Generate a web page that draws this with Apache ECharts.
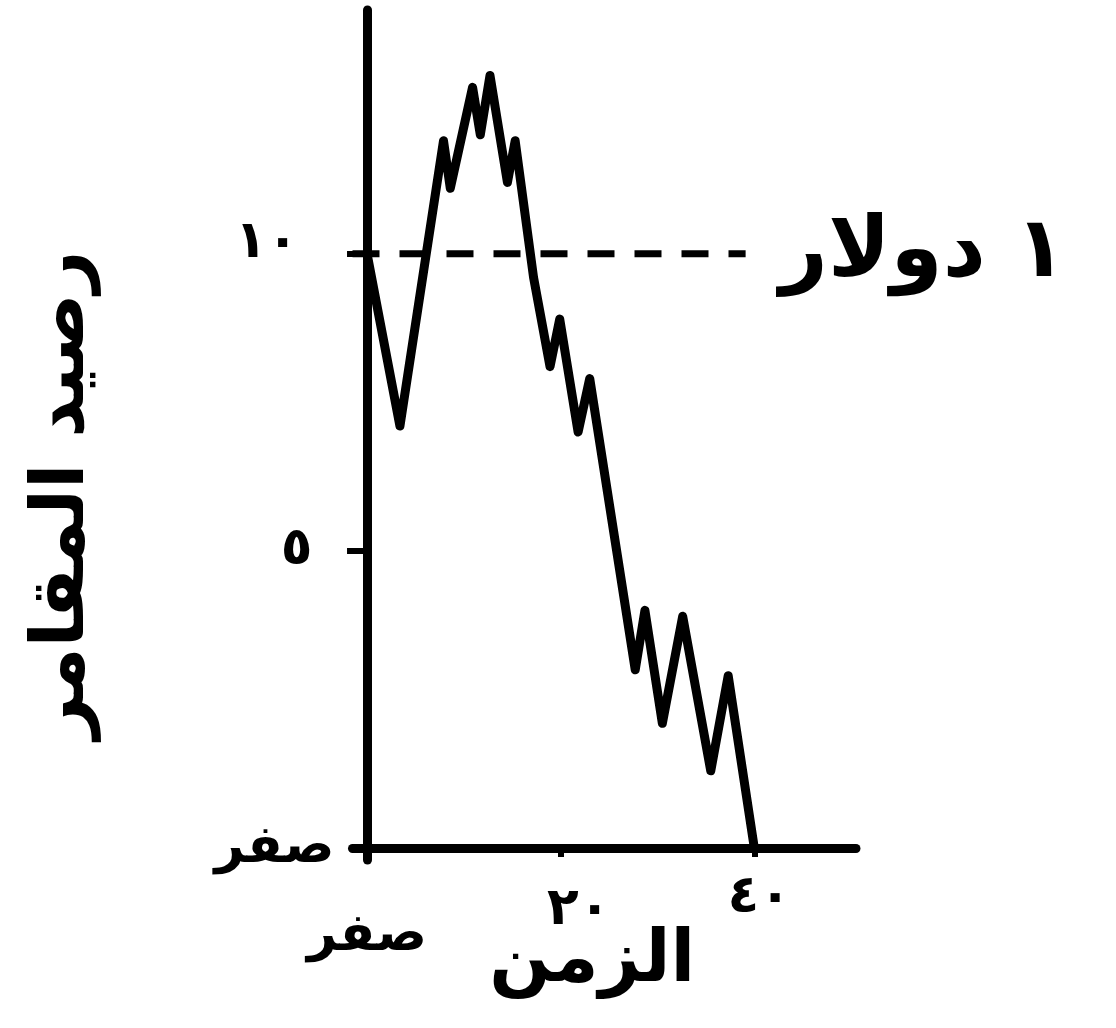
<!DOCTYPE html>
<html>
<head>
<meta charset="utf-8">
<script src="https://cdn.jsdelivr.net/npm/echarts@6/dist/echarts.min.js"></script>
<style>
  html, body { margin: 0; padding: 0; background: #fff; }
  #chart { width: 1116px; height: 1028px; }
</style>
</head>
<body>
<div id="chart"></div>
<script>
// gambler's balance over time
const timeSteps = [0, 3.4, 7.9, 8.6, 10.9, 11.7, 12.7, 14.5, 15.3, 17.2, 18.9, 19.9, 21.8, 23.0, 27.7, 28.7, 30.5, 32.6, 35.5, 37.3, 40];
const balance = [10, 7.1, 11.9, 11.1, 12.8, 12.0, 13.0, 11.2, 11.9, 9.6, 8.1, 8.9, 7.0, 7.9, 3.0, 4.0, 2.1, 3.9, 1.3, 2.9, 0];

// the dashed "1 dollar" reference line
const refLevel = 10;
const refRange = [-1.5, 39.1];
const refLabel = '١ دولار';

const xTicks = [0, 20, 40];
const xTickLabels = ['صفر', '٢٠', '٤٠'];
const yTicks = [0, 5, 10];
const yTickLabels = ['صفر', '٥', '١٠'];

const xName = 'الزمن';
const yName = 'رصيد المقامر';

const FONT = '"DejaVu Sans", sans-serif';
const INK = '#000';

const chart = echarts.init(document.getElementById('chart'));

const lbl = (extra) => Object.assign({ fontFamily: FONT, fontSize: 52, fontWeight: 'bold', color: INK }, extra);

chart.setOption({
  animation: false,
  backgroundColor: '#fff',
  grid: { left: 352.5, right: 260, top: 10, bottom: 168, outerBoundsMode: 'none', containLabel: false },
  xAxis: {
    type: 'value',
    min: -1.5,
    max: 50.5,
    name: xName,
    nameLocation: 'middle',
    nameGap: 66,
    nameMoveOverlap: false,
    nameTextStyle: { fontFamily: FONT, fontSize: 72, fontWeight: 'bold', color: INK, padding: [0, 24, 0, 0] },
    axisLine: { onZero: true, lineStyle: { color: INK, width: 9, cap: 'round' } },
    axisTick: { show: true, customValues: xTicks, length: 9, inside: false, lineStyle: { color: INK, width: 6 } },
    axisLabel: {
      customValues: xTicks,
      margin: 10,
      formatter: v => {
        const i = xTicks.indexOf(v);
        return i < 0 ? '' : '{t' + i + '|' + xTickLabels[i] + '}';
      },
      rich: {
        t0: lbl({ padding: [40, 0, 0, 0] }),
        t1: lbl({ padding: [14, 0, 0, 36] }),
        t2: lbl({ padding: [2, 0, 0, 10] })
      }
    },
    splitLine: { show: false }
  },
  yAxis: {
    type: 'value',
    min: -0.2,
    max: 14.1,
    name: yName,
    nameLocation: 'middle',
    nameRotate: 90,
    nameGap: 252,
    nameMoveOverlap: false,
    nameTextStyle: { fontFamily: FONT, fontSize: 74, fontWeight: 'bold', color: INK, padding: [0, 120, 0, 0] },
    axisLine: { onZero: true, lineStyle: { color: INK, width: 9, cap: 'round' } },
    axisTick: { show: true, customValues: [5, 10], length: 20, lineStyle: { color: INK, width: 6 } },
    axisLabel: {
      customValues: yTicks,
      margin: 18,
      formatter: v => {
        const i = yTicks.indexOf(v);
        return i < 0 ? '' : '{t' + i + '|' + yTickLabels[i] + '}';
      },
      rich: {
        t0: lbl({}),
        t1: lbl({ padding: [0, 22, 0, 0] }),
        t2: lbl({ padding: [0, 36, 20, 0] })
      }
    },
    splitLine: { show: false }
  },
  series: [
    {
      name: 'dollar',
      type: 'line',
      data: refRange.map(x => [x, refLevel]),
      symbol: 'none',
      silent: true,
      lineStyle: { color: INK, width: 7, type: [27, 20] },
      endLabel: {
        show: true,
        formatter: refLabel,
        distance: 34,
        fontFamily: FONT,
        fontSize: 84,
        fontWeight: 'bold',
        color: INK
      },
      z: 1
    },
    {
      name: 'balance',
      type: 'line',
      data: timeSteps.map((t, i) => [t, balance[i]]),
      symbol: 'none',
      lineStyle: { color: INK, width: 9, cap: 'round', join: 'round' },
      z: 3
    }
  ]
});
</script>
</body>
</html>
